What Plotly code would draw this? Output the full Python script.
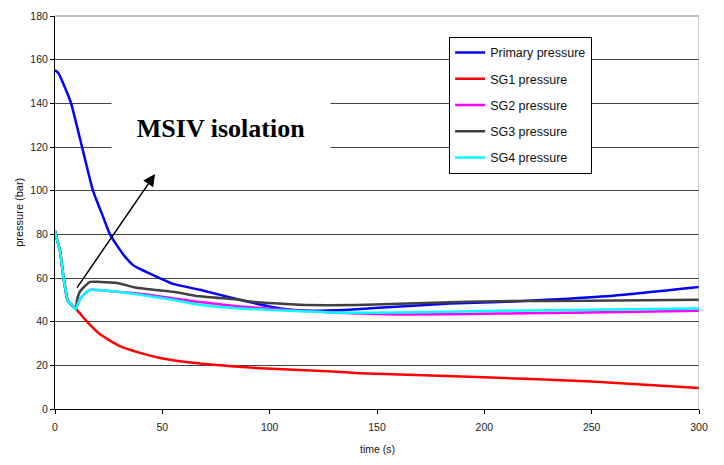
import plotly.graph_objects as go

# ---- data ----
t_primary = [0, 1.5, 5.4, 7.5, 12.6, 17.7, 22.4, 25.6, 31.8, 36.4, 38.8, 45.7, 55,
             67.5, 86, 105, 119, 137, 161, 184, 207, 229, 260, 300]
primary = [155.2, 154, 145.4, 140, 120, 100, 88, 80, 70.8, 65.9, 64.5, 61.3, 57.3,
           54.6, 50, 46, 45, 45.5, 47, 48.3, 49, 50, 51.9, 55.9]

t_sg1 = [0, 0.8, 2.3, 4, 6, 8, 10, 14.9, 21, 30, 39.6, 49, 67.5, 98.6, 129.6, 142, 200, 250, 300]
sg1 = [81.6, 78, 72.6, 60, 49.5, 47.5, 45.6, 40, 34.2, 28.9, 25.7, 23.4, 20.8, 18.5, 17.2, 16.4,
       14.5, 12.6, 9.6]

t_sg2 = [0, 0.8, 2.3, 4, 6, 8, 9.6, 10.6, 12, 16.3, 30, 39.6, 67.5, 86, 98.6, 129.5, 161, 207, 249, 300]
sg2 = [81.6, 78, 72.6, 60, 49.5, 47.5, 45.6, 48, 51, 54.5, 53.6, 52.8, 49, 47, 46, 44.2, 43.3,
       43.7, 44.2, 45]

t_sg3 = [0, 0.8, 2.3, 4, 6, 8, 9.6, 10.3, 11.6, 16.3, 21, 29, 38, 55, 67.5, 86, 91, 114, 145,
         176, 207, 249, 300]
sg3 = [81.6, 78, 72.6, 60, 49.5, 47.5, 45.6, 50, 53.7, 58.2, 58.2, 57.7, 55.5, 53.7, 51.6, 50,
       49.2, 47.7, 47.7, 48.7, 49.4, 49.6, 50]

t_sg4 = [0, 0.8, 2.3, 4, 6, 8, 9.6, 10.6, 12, 16.3, 30, 39.6, 55, 67.5, 86, 98.6, 129.5, 161,
         207, 250, 300]
sg4 = [81.6, 78, 72.6, 60, 49.5, 47.5, 45.6, 48, 51, 54.5, 53.6, 52.3, 50, 47.7, 46, 45.5, 44.2,
       44.2, 45, 45.5, 46]

series = [
    ("Primary pressure", t_primary, primary, "#0000FF"),
    ("SG1 pressure", t_sg1, sg1, "#FF0000"),
    ("SG2 pressure", t_sg2, sg2, "#FF00FF"),
    ("SG3 pressure", t_sg3, sg3, "#404040"),
    ("SG4 pressure", t_sg4, sg4, "#00FFFF"),
]

x_ticks = [0, 50, 100, 150, 200, 250, 300]
y_ticks = [0, 20, 40, 60, 80, 100, 120, 140, 160, 180]

fig = go.Figure()
for i, (name, tx, vals, col) in enumerate(series):
    fig.add_trace(go.Scatter(
        x=tx, y=vals, name=name, mode="lines", legendgroup="g%d" % i,
        line=dict(color=col, width=2.5, shape="spline", smoothing=0.5),
    ))

tick_font = dict(family="Liberation Sans, Arial, sans-serif", size=10.5, color="#222222")

fig.update_layout(
    width=724, height=465,
    margin=dict(l=55, r=25, t=10, b=56),
    plot_bgcolor="white", paper_bgcolor="white",
    showlegend=True,
    legend=dict(
        x=0.612, y=0.947, xanchor="left", yanchor="top",
        bgcolor="white", bordercolor="black", borderwidth=1,
        font=dict(family="Liberation Sans, Arial, sans-serif", size=12.5, color="#111111"),
        tracegroupgap=7,
    ),
    xaxis=dict(
        range=[0, 300], tickvals=x_ticks, showgrid=False, zeroline=False,
        showline=True, linecolor="black", linewidth=1,
        ticks="outside", ticklen=4, tickcolor="black", tickfont=tick_font,
        ticklabelstandoff=4,
    ),
    yaxis=dict(
        range=[0, 180], tickvals=y_ticks, showgrid=True, gridcolor="#444444", gridwidth=1,
        zeroline=False, showline=True, linecolor="black", linewidth=1,
        ticks="outside", ticklen=4, tickcolor="black", tickfont=tick_font,
    ),
)

# right and top border of plot area
fig.add_shape(type="line", xref="x", yref="paper", x0=300, x1=300, y0=0, y1=1,
              line=dict(color="#A0A0A0", width=1))
fig.add_shape(type="line", xref="paper", yref="paper", x0=0, x1=1, y0=1, y1=1,
              line=dict(color="#808080", width=1))

# axis titles
fig.add_annotation(text="pressure (bar)", xref="paper", yref="paper", x=-0.057, y=0.5,
                   xanchor="center", yanchor="middle", textangle=-90, showarrow=False,
                   font=dict(family="Liberation Sans, Arial, sans-serif", size=11, color="#111111"))
fig.add_annotation(text="time (s)", xref="paper", yref="paper", x=0.5, y=-0.103,
                   xanchor="center", yanchor="middle", showarrow=False,
                   font=dict(family="Liberation Sans, Arial, sans-serif", size=10.5, color="#111111"))

# MSIV isolation label with white box
fig.add_annotation(text="<b>MSIV isolation</b>", xref="x", yref="y", x=77.3, y=128.6,
                   showarrow=False, bgcolor="white", width=216, height=56,
                   font=dict(family="Liberation Serif, Times New Roman, serif", size=26, color="black"))

# arrow
fig.add_annotation(text="", xref="x", yref="y", axref="x", ayref="y",
                   x=46.6, y=107.6, ax=9.8, ay=54.9, showarrow=True,
                   arrowhead=2, arrowsize=1.6, arrowwidth=1.5, arrowcolor="black")

fig.write_html("out.html")
